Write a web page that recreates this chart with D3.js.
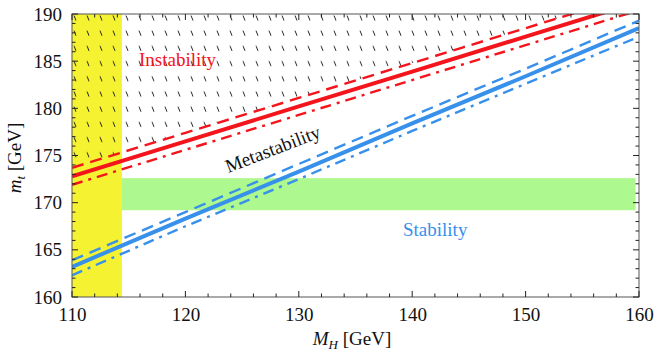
<!DOCTYPE html>
<html>
<head>
<meta charset="utf-8">
<script src="https://cdn.jsdelivr.net/npm/d3@7"></script>
<style>
body { margin: 0; background: #fff; }
text { font-family: "Liberation Serif", "Times New Roman", serif; }
</style>
</head>
<body>
<div class="plot"></div>
<script>
// M_H grid and the m_t bounds (GeV)
var mh = [110, 120, 130, 140, 150, 160];
var instCentral = [172.8, 176.5, 180.2, 183.9, 187.6, 191.3];
var instUpper = [173.7, 177.4, 181.1, 184.8, 188.5, 192.2];
var instLower = [171.9, 175.6, 179.3, 183.0, 186.7, 190.4];
var stabCentral = [163.2, 168.3, 173.3, 178.4, 183.4, 188.5];
var stabUpper = [163.9, 169.0, 174.1, 179.2, 184.2, 189.3];
var stabLower = [162.3, 167.5, 172.5, 177.6, 182.6, 187.6];

var lepBound = [110, 114.4];          // excluded Higgs masses
var topBand = [114.4, 159.7, 169.2, 172.6]; // M_H from/to, m_t from/to

var xTicks = [110, 120, 130, 140, 150, 160];
var yTicks = [160, 165, 170, 175, 180, 185, 190];

const width = 654;
const height = 353;

var x = d3.scaleLinear().domain([110, 160]).range([72, 639]);
var y = d3.scaleLinear().domain([160, 190]).range([297, 14]);

var svg = d3.select('.plot')
    .append('svg')
    .attr('width', width)
    .attr('height', height);

var defs = svg.append('defs');
defs.append('clipPath').attr('id', 'frame')
    .append('rect')
    .attr('x', x(110)).attr('y', y(190))
    .attr('width', x(160) - x(110)).attr('height', y(160) - y(190));

var hatch = defs.append('pattern')
    .attr('id', 'hatch')
    .attr('patternUnits', 'userSpaceOnUse')
    .attr('x', 72).attr('y', 14)
    .attr('width', 13).attr('height', 15.2);
hatch.append('line')
    .attr('x1', 2).attr('y1', 1.5).attr('x2', 4).attr('y2', 6.5)
    .attr('stroke', '#111').attr('stroke-width', 0.9);

var plot = svg.append('g').attr('clip-path', 'url(#frame)');

// LEP exclusion
plot.append('rect')
    .attr('x', x(lepBound[0]))
    .attr('y', y(190))
    .attr('width', x(lepBound[1]) - x(lepBound[0]))
    .attr('height', y(160) - y(190))
    .attr('fill', '#f5f232');

// top mass band
plot.append('rect')
    .attr('x', x(topBand[0]))
    .attr('y', y(topBand[3]))
    .attr('width', x(topBand[1]) - x(topBand[0]))
    .attr('height', y(topBand[2]) - y(topBand[3]))
    .attr('fill', '#adf88f');

// hatched instability region
var hatchArea = d3.area()
    .x(function(d){return x(d)})
    .y0(function(d){return y(195)})
    .y1(function(d, i){return y(instUpper[i])});
plot.append('path')
    .datum(mh)
    .attr('d', hatchArea)
    .attr('fill', 'url(#hatch)');

var curves = [
    {v: instUpper, color: '#f4141c', w: 2.4, dash: '12,7'},
    {v: instLower, color: '#f4141c', w: 2.4, dash: '11,6,3,6'},
    {v: instCentral, color: '#f4141c', w: 4, dash: null},
    {v: stabUpper, color: '#3790ea', w: 2.4, dash: '12,7'},
    {v: stabLower, color: '#3790ea', w: 2.4, dash: '11,6,3,6'},
    {v: stabCentral, color: '#3790ea', w: 4, dash: null}
];

var line = d3.line()
    .x(function(d, i){return x(mh[i])})
    .y(function(d){return y(d)});

plot.selectAll('.curve')
    .data(curves)
    .enter()
    .append('path')
    .attr('class', 'curve')
    .attr('d', function(d){return line(d.v)})
    .attr('fill', 'none')
    .attr('stroke', function(d){return d.color})
    .attr('stroke-width', function(d){return d.w})
    .attr('stroke-dasharray', function(d){return d.dash});

// region labels
svg.append('text')
    .attr('x', 139).attr('y', 66)
    .attr('font-size', '19px')
    .attr('fill', '#f4141c')
    .text('Instability');

svg.append('text')
    .attr('transform', 'translate(275,155) rotate(-21)')
    .attr('text-anchor', 'middle')
    .attr('font-size', '19px')
    .attr('fill', '#111')
    .text('Metastability');

svg.append('text')
    .attr('x', 403).attr('y', 236)
    .attr('font-size', '19px')
    .attr('fill', '#3790ea')
    .text('Stability');

// frame and ticks on all four sides
svg.append('rect')
    .attr('x', x(110)).attr('y', y(190))
    .attr('width', x(160) - x(110)).attr('height', y(160) - y(190))
    .attr('fill', 'none')
    .attr('stroke', '#555')
    .attr('stroke-width', 1);

var xMinor = d3.range(110, 161, 2);
var yMinor = d3.range(160, 191, 1);

function tickLen(major, v){ return major.indexOf(v) >= 0 ? 6 : 3.5; }

svg.append('g').selectAll('line')
    .data(xMinor).enter().append('line')
    .attr('x1', function(d){return x(d)}).attr('x2', function(d){return x(d)})
    .attr('y1', y(160)).attr('y2', function(d){return y(160) - tickLen(xTicks, d)})
    .attr('stroke', '#222');
svg.append('g').selectAll('line')
    .data(xMinor).enter().append('line')
    .attr('x1', function(d){return x(d)}).attr('x2', function(d){return x(d)})
    .attr('y1', y(190)).attr('y2', function(d){return y(190) + tickLen(xTicks, d)})
    .attr('stroke', '#222');
svg.append('g').selectAll('line')
    .data(yMinor).enter().append('line')
    .attr('y1', function(d){return y(d)}).attr('y2', function(d){return y(d)})
    .attr('x1', x(110)).attr('x2', function(d){return x(110) + tickLen(yTicks, d)})
    .attr('stroke', '#222');
svg.append('g').selectAll('line')
    .data(yMinor).enter().append('line')
    .attr('y1', function(d){return y(d)}).attr('y2', function(d){return y(d)})
    .attr('x1', x(160)).attr('x2', function(d){return x(160) - tickLen(yTicks, d)})
    .attr('stroke', '#222');

// tick labels via d3 axes (tick marks drawn above)
var xAxis = svg.append('g')
    .attr('transform', 'translate(0,' + y(160) + ')')
    .call(d3.axisBottom(x).tickValues(xTicks).tickSize(0).tickPadding(11).tickFormat(d3.format('d')));
var yAxis = svg.append('g')
    .attr('transform', 'translate(' + x(110) + ',0)')
    .call(d3.axisLeft(y).tickValues(yTicks).tickSize(0).tickPadding(10).tickFormat(d3.format('d')));

[xAxis, yAxis].forEach(function(a){
    a.select('.domain').remove();
    a.selectAll('text')
        .attr('font-family', '"Liberation Serif", serif')
        .attr('font-size', '19px')
        .attr('fill', '#111');
});

// axis titles
var xt = svg.append('text')
    .attr('x', 352).attr('y', 345)
    .attr('text-anchor', 'middle')
    .attr('font-size', '19px')
    .attr('fill', '#111');
xt.append('tspan').attr('font-style', 'italic').text('M');
xt.append('tspan').attr('font-style', 'italic').attr('font-size', '13px').attr('dy', 4).text('H');
xt.append('tspan').attr('dy', -4).text(' [GeV]');

var yt = svg.append('text')
    .attr('transform', 'translate(21,158) rotate(-90)')
    .attr('text-anchor', 'middle')
    .attr('font-size', '19px')
    .attr('fill', '#111');
yt.append('tspan').attr('font-style', 'italic').text('m');
yt.append('tspan').attr('font-style', 'italic').attr('font-size', '13px').attr('dy', 4).text('t');
yt.append('tspan').attr('dy', -4).text(' [GeV]');
</script>
</body>
</html>
